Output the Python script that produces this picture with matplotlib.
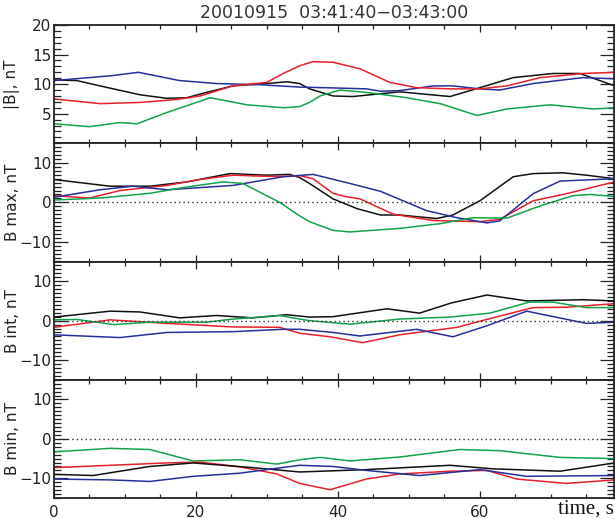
import matplotlib
matplotlib.use("Agg")
import matplotlib.pyplot as plt
from matplotlib.ticker import MultipleLocator, FixedLocator

# ---------------- data ----------------
title = "20010915  03:41:40\u221203:43:00"
ylabels = ["|B|, nT", "B max, nT", "B int, nT", "B min, nT"]
colors = {"black": "#111111", "red": "#e8202a", "blue": "#26309a", "green": "#12a24a"}

# panel 1 : |B|
b_black_t = [0, 3.2, 6.5, 12.1, 15.9, 18.7, 21.5, 25.2, 30, 32.8, 34.6, 36, 39.3, 42.1, 48.7, 55.8, 60, 64.7, 70.3, 74.1, 76.9, 79]
b_black_v = [10.7, 10.6, 9.7, 8.2, 7.6, 7.7, 8.6, 9.7, 10.1, 10.4, 10.1, 9.2, 8.0, 7.9, 8.7, 7.9, 9.4, 11.1, 11.8, 11.8, 10.6, 9.7]
b_blue_t = [0, 7.9, 11.9, 17.7, 22.9, 29, 34.6, 38, 44, 46, 48.7, 53.4, 56.2, 60, 62.8, 67.5, 74.5, 79]
b_blue_v = [10.6, 11.4, 12.0, 10.6, 10.1, 9.9, 9.5, 9.4, 9.2, 8.8, 8.9, 9.7, 9.7, 9.2, 9.0, 10.1, 11.1, 10.9]
b_red_t = [0, 6.5, 12.1, 17.3, 20.6, 25.2, 30, 32.3, 34.6, 36.5, 39.3, 43.1, 47.3, 51.1, 55.8, 60, 63.8, 68.5, 74.5, 79]
b_red_v = [7.5, 6.7, 6.9, 7.4, 8.0, 9.7, 10.3, 11.8, 13.1, 13.8, 13.7, 12.6, 10.3, 9.4, 9.2, 9.2, 9.7, 11.1, 11.8, 12.0]
b_green_t = [0, 5, 9.3, 11.7, 15.9, 22, 27.2, 32.3, 34.6, 36, 37.5, 40.3, 44, 49.7, 54.4, 59.6, 63.8, 69.9, 75.9, 79]
b_green_v = [3.3, 2.8, 3.5, 3.3, 5.2, 7.7, 6.5, 6.0, 6.2, 6.9, 8.0, 9.0, 8.6, 7.7, 6.7, 4.7, 5.8, 6.5, 5.8, 6.0]

# panel 2 : B max
mx_black_t = [0, 7.9, 13.5, 18.7, 24.8, 30, 33.2, 34.6, 36, 39.3, 42.7, 46, 48.7, 53.9, 56.2, 60, 64.7, 67.5, 71.7, 75, 79]
mx_black_v = [5.8, 4.1, 4.1, 5.2, 7.3, 6.9, 7.1, 6.3, 4.8, 0.9, -1.6, -3.2, -3.2, -4.1, -3.2, 0.4, 6.5, 7.3, 7.5, 6.9, 6.0]
mx_red_t = [0, 5, 9.3, 15.9, 20.6, 25.2, 30, 33.2, 34.6, 36.5, 39.3, 41, 43.1, 47.8, 53.4, 60, 62.8, 67.5, 72.2, 79]
mx_red_v = [1.7, 1.1, 3.0, 4.3, 5.8, 6.9, 6.6, 6.6, 6.8, 6.0, 2.3, 1.5, 0.9, -3.0, -4.6, -4.9, -4.3, 0.4, 2.2, 5.2]
mx_blue_t = [0, 6.5, 11.1, 15.9, 25.2, 32.3, 36.5, 41.7, 46, 52.5, 56.8, 61, 62.8, 67.5, 71.3, 79]
mx_blue_v = [1.3, 3.2, 4.1, 3.2, 4.3, 6.5, 7.1, 4.8, 2.8, -2.1, -3.9, -5.2, -4.7, 2.2, 5.4, 6.0]
mx_green_t = [0, 6.5, 13.5, 18.7, 23.8, 26.6, 31.8, 34.6, 36, 39.3, 41.7, 48.7, 54.4, 59, 63.8, 68.5, 73.1, 75.5, 79]
mx_green_v = [0.6, 1.1, 2.3, 3.9, 5.2, 4.8, 0.0, -3.4, -4.9, -7.1, -7.5, -6.6, -5.4, -3.9, -4.0, -0.9, 1.7, 2.0, 1.5]

# panel 3 : B int
it_black_t = [0, 7.9, 12.1, 17.7, 22.9, 28, 32.8, 36, 39.3, 46.9, 51.5, 56, 61, 66.6, 74.5, 79]
it_black_v = [0.9, 2.4, 2.2, 0.7, 1.3, 0.7, 1.5, 0.9, 1.0, 3.0, 1.9, 4.5, 6.5, 5.0, 5.3, 5.0]
it_red_t = [0, 7.9, 15.9, 25.2, 31.8, 34.6, 38.9, 43.5, 48.7, 56.8, 61.8, 67.5, 72.2, 79]
it_red_v = [-1.7, 0.2, -0.7, -1.6, -1.7, -3.2, -4.1, -5.6, -3.6, -1.7, 0.7, 3.3, 3.4, 4.3]
it_blue_t = [0, 9.3, 15.9, 25.2, 32.3, 34.6, 39.3, 43.1, 51.1, 56.2, 61, 66.6, 75, 79]
it_blue_v = [-3.6, -4.3, -3.0, -2.8, -2.2, -2.2, -3.0, -3.9, -2.2, -4.1, -1.3, 2.4, -0.7, -0.4]
it_green_t = [0, 3.2, 8.4, 13.5, 21.5, 25.2, 31.8, 34.6, 36, 41.7, 48.7, 55.8, 61.4, 67, 70.3, 75, 79]
it_green_v = [0.2, 0.3, -1.0, -0.4, -0.4, 0.4, 1.3, 0.4, 0.0, -0.9, 0.4, 0.9, 1.9, 4.7, 4.7, 3.3, 3.3]

# panel 4 : B min
mn_green_t = [0, 7.9, 13.5, 19.6, 26.2, 31.4, 34.6, 37.5, 41.7, 48.7, 57.2, 62.8, 71.3, 79]
mn_green_v = [-3.3, -2.4, -2.7, -5.6, -5.3, -6.4, -5.3, -4.7, -5.6, -4.6, -2.7, -3.0, -4.7, -5.0]
mn_red_t = [0, 15.9, 20.6, 26.2, 31.4, 34.6, 38.9, 44, 48.7, 55.8, 61, 65.2, 72.2, 79]
mn_red_v = [-7.3, -6.1, -5.9, -7.1, -8.9, -11.3, -12.9, -10.2, -8.9, -8.2, -8.0, -10.2, -11.3, -10.4]
mn_black_t = [0, 5.5, 13.5, 19.6, 28, 34.6, 44, 55.8, 61.8, 71.3, 79]
mn_black_v = [-9.0, -9.3, -7.0, -6.1, -7.3, -8.4, -7.8, -6.7, -7.6, -8.2, -6.1]
mn_blue_t = [0, 7.9, 13.5, 19.6, 26.2, 34.6, 39.3, 44, 51.5, 60, 66.6, 79]
mn_blue_v = [-10.2, -10.4, -10.8, -9.5, -8.7, -6.7, -7.0, -8.0, -9.3, -7.8, -9.5, -9.3]

panels = [
    [("black", b_black_t, b_black_v), ("blue", b_blue_t, b_blue_v),
     ("red", b_red_t, b_red_v), ("green", b_green_t, b_green_v)],
    [("black", mx_black_t, mx_black_v), ("red", mx_red_t, mx_red_v),
     ("blue", mx_blue_t, mx_blue_v), ("green", mx_green_t, mx_green_v)],
    [("black", it_black_t, it_black_v), ("red", it_red_t, it_red_v),
     ("blue", it_blue_t, it_blue_v), ("green", it_green_t, it_green_v)],
    [("green", mn_green_t, mn_green_v), ("red", mn_red_t, mn_red_v),
     ("black", mn_black_t, mn_black_v), ("blue", mn_blue_t, mn_blue_v)],
]
x_ticks = [0, 20, 40, 60]

# ---------------- figure ----------------
fig = plt.figure(figsize=(6.15, 5.19), dpi=100)
left, right, top, bottom = 54 / 615, 614 / 615, 1 - 25 / 519, 1 - 498 / 519
h = (top - bottom) / 4
txt = "#222222"

for i, series in enumerate(panels):
    ax = fig.add_axes([left, top - (i + 1) * h, right - left, h])
    for c, t, v in series:
        ax.plot(t, v, color=colors[c], lw=1.1, solid_joinstyle="round")
    ax.set_xlim(0, 78.9)
    if i == 0:
        ax.set_ylim(0, 20)
        ax.yaxis.set_major_locator(FixedLocator([5, 10, 15, 20]))
        ax.yaxis.set_minor_locator(MultipleLocator(1))
    else:
        ax.set_ylim(-15, 15)
        ax.yaxis.set_major_locator(FixedLocator([-10, 0, 10]))
        ax.yaxis.set_minor_locator(MultipleLocator(1))
        ax.axhline(0, color="#333333", lw=1.0, ls=(0, (1, 2.2)))
    ax.xaxis.set_major_locator(FixedLocator(x_ticks))
    ax.xaxis.set_minor_locator(MultipleLocator(5))
    ax.tick_params(axis="both", which="both", direction="in", top=True, right=True,
                   colors="#222222", labelcolor=txt, labelsize=11, width=0.9)
    ax.tick_params(axis="y", which="major", length=10, pad=2)
    ax.tick_params(axis="y", which="minor", length=5)
    ax.tick_params(axis="x", which="major", length=5, pad=5)
    ax.tick_params(axis="x", which="minor", length=3)
    for s in ax.spines.values():
        s.set_color("#222222")
        s.set_linewidth(1.3)
    ax.set_ylabel(ylabels[i], fontsize=11, color=txt, labelpad=4)
    ax.yaxis.set_label_coords(-0.06, 0.5)
    if i < 3:
        ax.tick_params(axis="x", labelbottom=False)
    if i == 0:
        ax.set_title(title, fontsize=12.5, color="#333333", pad=5)
    if i == 3:
        ax.text(1.0, -0.13, "time, s", transform=ax.transAxes, ha="right", va="baseline",
                fontsize=15, family="Liberation Serif", color="#111111")

fig.savefig("out.png", dpi=100)
